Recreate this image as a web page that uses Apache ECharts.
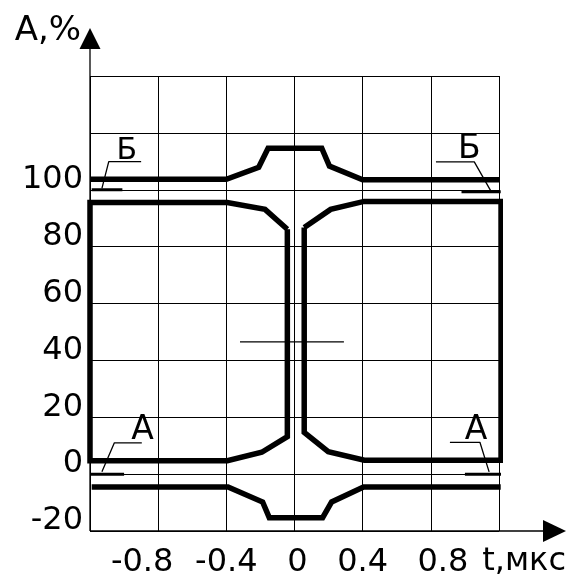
<!DOCTYPE html>
<html>
<head>
<meta charset="utf-8">
<script src="https://cdn.jsdelivr.net/npm/echarts@6/dist/echarts.min.js"></script>
<style>
html, body { margin: 0; padding: 0; background: #fff; }
#main { width: 571px; height: 582px; }
</style>
</head>
<body>
<div id="main"></div>
<script>
// tick labels that are printed (the others stay blank)
var xTickLabels = ['-0.8', '-0.4', '0', '0.4', '0.8'];
var yTickLabels = ['-20', '0', '20', '40', '60', '80', '100'];
var xName = 't,мкс';
var yName = 'А,%';

// upper level curve (Б)
var curveB = [[-1.2, 103.7], [-0.4, 103.7], [-0.21, 107.9], [-0.155, 114.6], [0.16, 114.6], [0.205, 108.3], [0.4, 103.5], [1.2, 103.5]];
// lower level curve (А)
var curveA = [[-1.19, -4.5], [-0.39, -4.5], [-0.187, -9.8], [-0.148, -15.3], [0.165, -15.3], [0.218, -9.8], [0.405, -4.5], [1.21, -4.5]];
// left and right pulse outlines
var pulseLeft = [[-0.042, 86.1], [-0.042, 13.2], [-0.192, 7.7], [-0.394, 4.7], [-1.2, 4.7], [-1.2, 95.5], [-0.395, 95.5], [-0.173, 93.1], [-0.042, 86.1]];
var pulseRight = [[0.057, 86.7], [0.057, 14.7], [0.198, 7.9], [0.41, 4.9], [1.212, 4.9], [1.212, 95.9], [0.408, 95.9], [0.212, 93.1], [0.057, 86.7]];
// middle thin mark
var midLine = [[-0.32, 46.5], [0.29, 46.5]];

// short level marks
var markB1 = [[-1.19, 100], [-1.01, 100]];
var markB2 = [[0.98, 99.3], [1.21, 99.3]];
var markA1 = [[-1.2, 0], [-1.0, 0]];
var markA2 = [[1.0, 0], [1.22, 0]];

// leader lines to the letters
var leaderB1 = [[-1.13, 100.5], [-1.09, 109.9], [-0.9, 109.9]];
var leaderB2 = [[1.15, 99.8], [1.055, 109.8], [0.83, 109.8]];
var leaderA1 = [[-1.13, 0.8], [-1.057, 11], [-0.896, 11]];
var leaderA2 = [[1.142, 0.8], [1.088, 11.2], [0.912, 11.2]];

// letters
var letterNames = ['Б', 'Б', 'А', 'А'];
var letterPos = [[-0.984, 113.4], [1.026, 114.3], [-0.891, 15.5], [1.065, 15.5]];

var FONT = 'DejaVu Sans';

function thick(data) {
  return {
    type: 'line', data: data, symbol: 'none', clip: false, silent: true,
    lineStyle: { color: '#000', width: 5.5, join: 'miter', miterLimit: 10 }
  };
}
function thin(data, w) {
  return {
    type: 'line', data: data, symbol: 'none', clip: false, silent: true,
    lineStyle: { color: '#000', width: w }
  };
}

// the printed x labels are not quite centred on their grid lines
var xShift = { '-0.8': 'l16', '0.8': 'r12', '0': 'r3' };

var chart = echarts.init(document.getElementById('main'));
chart.setOption({
  animation: false,
  backgroundColor: '#fff',
  grid: { left: 90, right: 72, top: 76, bottom: 51 },
  xAxis: {
    type: 'value',
    min: -1.2,
    max: 1.2,
    interval: 0.4,
    axisLine: { show: false },
    axisTick: { show: false },
    splitLine: { show: true, lineStyle: { color: '#000', width: 1 } },
    axisLabel: {
      fontFamily: FONT, fontSize: 32, color: '#000', margin: 16,
      formatter: function (v) {
        var s = String(Number(v.toFixed(1)));
        if (xTickLabels.indexOf(s) < 0) return '';
        return xShift[s] ? '{' + xShift[s] + '|' + s + '}' : s;
      },
      rich: {
        l16: { fontFamily: FONT, fontSize: 32, color: '#000', padding: [0, 32, 0, 0] },
        r12: { fontFamily: FONT, fontSize: 32, color: '#000', padding: [0, 0, 0, 24] },
        r3: { fontFamily: FONT, fontSize: 32, color: '#000', padding: [0, 0, 0, 6] }
      }
    }
  },
  yAxis: {
    type: 'value',
    min: -20,
    max: 140,
    interval: 20,
    axisLine: { show: false },
    axisTick: { show: false },
    splitLine: { show: true, lineStyle: { color: '#000', width: 1 } },
    axisLabel: {
      fontFamily: FONT, fontSize: 32, color: '#000', margin: 7,
      verticalAlign: 'bottom', lineHeight: 20,
      formatter: function (v) {
        var s = String(Math.round(v));
        return yTickLabels.indexOf(s) >= 0 ? s : '';
      }
    }
  },
  series: [
    thick(curveB),
    thick(curveA),
    thick(pulseLeft),
    thick(pulseRight),
    thin(midLine, 1.3),
    thin(markB1, 3),
    thin(markB2, 3),
    thin(markA1, 3),
    thin(markA2, 3),
    thin(leaderB1, 1.3),
    thin(leaderB2, 1.3),
    thin(leaderA1, 1.3),
    thin(leaderA2, 1.3),
    {
      type: 'scatter',
      symbolSize: 0,
      silent: true,
      itemStyle: { opacity: 1, color: '#000' },
      data: letterPos.map(function (p, i) {
        return { value: p, name: letterNames[i], label: { fontSize: i === 0 ? 30 : 33 } };
      }),
      label: {
        show: true, position: 'inside', color: '#000', fontFamily: FONT,
        textBorderWidth: 0, opacity: 1,
        formatter: function (p) { return p.name; }
      }
    }
  ]
});

// axis arrows and axis names outside the grid
var o = chart.convertToPixel({ gridIndex: 0 }, [-1.2, -20]);
var t = chart.convertToPixel({ gridIndex: 0 }, [-1.2, 140]);
var r = chart.convertToPixel({ gridIndex: 0 }, [1.2, -20]);
chart.setOption({
  graphic: [
    { type: 'line', shape: { x1: o[0], y1: o[1], x2: o[0], y2: t[1] - 27 }, style: { stroke: '#000', lineWidth: 1.3 } },
    { type: 'polygon', shape: { points: [[o[0] - 10.5, t[1] - 27], [o[0] + 10.5, t[1] - 27], [o[0], t[1] - 48]] }, style: { fill: '#000' } },
    { type: 'line', shape: { x1: o[0], y1: o[1], x2: r[0] + 44, y2: o[1] }, style: { stroke: '#000', lineWidth: 1.3 } },
    { type: 'polygon', shape: { points: [[r[0] + 44, o[1] - 11], [r[0] + 44, o[1] + 11], [r[0] + 67, o[1]]] }, style: { fill: '#000' } },
    {
      type: 'text', x: o[0] - 9, y: t[1] - 45,
      style: { text: yName, fontFamily: FONT, fontSize: 34, fill: '#000', align: 'right', verticalAlign: 'middle' }
    },
    {
      type: 'text', x: r[0] + 67, y: o[1] + 15,
      style: { text: xName, fontFamily: FONT, fontSize: 32, fill: '#000', align: 'right', verticalAlign: 'top' }
    }
  ]
});
</script>
</body>
</html>
